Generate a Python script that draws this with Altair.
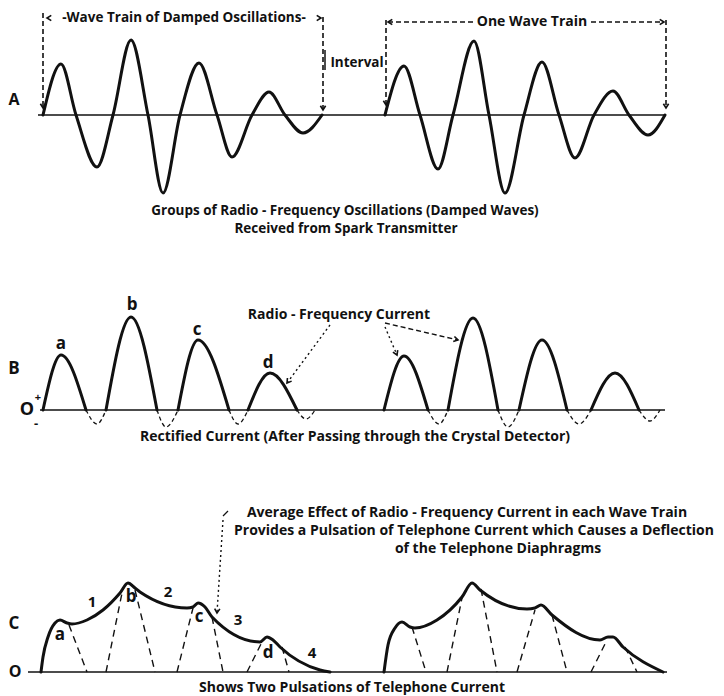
import math
import altair as alt
import pandas as pd

# ---------------- data (diagram coordinates: x = time, y = distance from top) ----------------
# Panel A : damped oscillation wave trains (zero crossings and extremes)
A_BASE = 115
A1_X = [43, 61, 76, 97, 113, 131, 148, 163, 180, 199, 217, 232, 252, 269, 285, 303, 322]
A1_AMP = [0, 51, 0, -52, 0, 75, 0, -78, 0, 52, 0, -42, 0, 23, 0, -18, 0]
A2_X = [385, 404, 420, 438, 453, 474, 489, 505, 524, 542, 559, 575, 594, 613, 629, 648, 665]
A2_AMP = [0, 49, 0, -54, 0, 74, 0, -78, 0, 53, 0, -43, 0, 24, 0, -20, 0]

# Panel B : rectified current humps (start, peak, end, amplitude) and suppressed half-waves
B_BASE = 410
B_HUMP_START = [43, 106, 178, 248, 384, 448, 519, 591]
B_HUMP_PEAK = [61, 131, 198, 270, 404, 473, 542, 615]
B_HUMP_END = [86, 157, 229, 297, 428, 498, 567, 639]
B_HUMP_AMP = [55, 93, 70, 37, 54, 92, 70, 37]
B_TROUGH_START = [86, 157, 229, 297, 428, 498, 567, 639]
B_TROUGH_LOW = [97, 166, 238, 306, 439, 508, 579, 650]
B_TROUGH_END = [106, 178, 248, 315, 448, 519, 591, 660]
B_TROUGH_AMP = [-14, -17, -14, -9, -14, -17, -14, -11]

# Panel C : telephone current envelopes
C_BASE = 672
C1_X = [41, 43, 48, 55, 60, 67, 72, 87, 103, 120, 128, 135, 140, 187, 193, 198, 205, 212, 260, 267, 273, 280, 320, 330]
C1_AMP = [0, 15, 35, 49, 52, 49, 48, 52, 62, 79, 89, 84, 80, 64, 65, 69, 65, 55, 30, 35, 32, 25, 2, 0]
C2_X = [384, 388, 395, 402, 410, 415, 437, 462, 472, 480, 527, 535, 541, 552, 600, 608, 613, 623, 663]
C2_AMP = [0, 27, 44, 50, 45, 44, 52, 75, 89, 82, 63, 64, 67, 57, 32, 35, 35, 25, 0]
# dashed flanks of the individual half-waves (x1, amp1, x2, amp2)
C_DASH_X1 = [69, 106, 135, 177, 212, 247, 282, 412, 447, 481, 517, 552, 591, 625]
C_DASH_A1 = [47, 0, 82, 0, 55, 0, 25, 45, 0, 83, 0, 57, 0, 25]
C_DASH_X2 = [87, 122, 155, 193, 223, 262, 289, 426, 463, 497, 535, 567, 607, 637]
C_DASH_A2 = [0, 79, 0, 64, 0, 30, 0, 0, 79, 0, 62, 0, 32, 0]

# Baselines (x start, x end, y)
BASE_X1 = [38, 40, 28]
BASE_X2 = [665, 665, 667]
BASE_Y = [A_BASE, B_BASE, C_BASE]

# Dashed measuring lines of panel A (x1, y1, x2, y2)
MEAS_X1 = [43, 323, 386, 666, 388, 591]
MEAS_Y1 = [13, 17, 20, 20, 22, 22]
MEAS_X2 = [43, 323, 386, 666, 473, 664]
MEAS_Y2 = [108, 110, 105, 108, 22, 22]

# Pointer lines (x1, y1, x2, y2, dash)
PTR_X1 = [330, 385, 385, 223, 223]
PTR_Y1 = [325, 323, 327, 520, 516]
PTR_X2 = [287, 458, 397, 217, 228]
PTR_Y2 = [383, 340, 355, 613, 511]
PTR_KIND = ["dot", "dash", "dot", "dot", "solid"]

# Arrow heads: tip position and the point they come from
HEAD_X = [287, 458, 397, 217, 43, 323, 386, 666, 47, 321, 388, 664]
HEAD_Y = [383, 340, 355, 613, 108, 110, 105, 108, 18, 18, 22, 22]
HEAD_FROM_X = [330, 385, 385, 223, 43, 323, 386, 666, 60, 306, 400, 652]
HEAD_FROM_Y = [325, 323, 327, 520, 90, 90, 90, 90, 18, 18, 22, 22]

# Text annotations
TXT = ["A", "B", "C", "O", "+", "-", "O",
       "-Wave Train of Damped Oscillations-", "Interval", "One Wave Train",
       "Groups of Radio - Frequency Oscillations (Damped Waves)",
       "Received from Spark Transmitter",
       "a", "b", "c", "d", "Radio - Frequency Current",
       "Rectified Current (After Passing through the Crystal Detector)",
       "Average Effect of Radio - Frequency Current in each Wave Train",
       "Provides a Pulsation of Telephone Current which Causes a Deflection",
       "of the Telephone Diaphragms",
       "a", "b", "c", "d", "1", "2", "3", "4",
       "Shows Two Pulsations of Telephone Current"]
TXT_X = [14, 14, 14, 27, 38, 36, 15,
         184, 357, 532,
         345, 346,
         61, 132, 197, 268, 339,
         355,
         467, 474, 498,
         60, 131, 199, 268, 92, 168, 238, 312,
         352]
TXT_Y = [100, 369, 624, 410, 398, 424, 672,
         18, 63, 22,
         211, 229,
         344, 305, 330, 363, 315,
         437,
         513, 531, 549,
         635, 597, 617, 653, 602, 592, 620, 653,
         688]
TXT_SIZE = [16, 17, 17, 18, 11, 13, 16,
            13.5, 13.5, 14,
            13.5, 13.5,
            17, 17, 17, 17, 14,
            14,
            14, 14, 14,
            17, 17, 17, 17, 15, 15, 15, 15,
            14]

# ---------------- build tables ----------------
rows = []
for seg, (xs, amps) in enumerate([(A1_X, A1_AMP), (A2_X, A2_AMP)]):
    for x, a in zip(xs, amps):
        rows.append({"seg": f"A{seg}", "x": x, "y": A_BASE - a})
for i in range(len(B_HUMP_START)):
    for x, a in [(B_HUMP_START[i], 0), (B_HUMP_PEAK[i], B_HUMP_AMP[i]), (B_HUMP_END[i], 0)]:
        rows.append({"seg": f"B{i}", "x": x, "y": B_BASE - a})
for seg, (xs, amps) in enumerate([(C1_X, C1_AMP), (C2_X, C2_AMP)]):
    for x, a in zip(xs, amps):
        rows.append({"seg": f"C{seg}", "x": x, "y": C_BASE - a})
solid = pd.DataFrame(rows)

rows = []
for i in range(len(B_TROUGH_START)):
    for x, a in [(B_TROUGH_START[i], 0), (B_TROUGH_LOW[i], B_TROUGH_AMP[i]), (B_TROUGH_END[i], 0)]:
        rows.append({"seg": f"T{i}", "x": x, "y": B_BASE - a})
troughs = pd.DataFrame(rows)

cdash = pd.DataFrame({
    "x": C_DASH_X1, "y": [C_BASE - a for a in C_DASH_A1],
    "x2": C_DASH_X2, "y2": [C_BASE - a for a in C_DASH_A2],
})
meas = pd.DataFrame({"x": MEAS_X1, "y": MEAS_Y1, "x2": MEAS_X2, "y2": MEAS_Y2})
bases = pd.DataFrame({"x": BASE_X1, "x2": BASE_X2, "y": BASE_Y, "y2": BASE_Y})
ptr = pd.DataFrame({"x": PTR_X1, "y": PTR_Y1, "x2": PTR_X2, "y2": PTR_Y2, "kind": PTR_KIND})
ang = []
for hx, hy, fx, fy in zip(HEAD_X, HEAD_Y, HEAD_FROM_X, HEAD_FROM_Y):
    dx, dy = hx - fx, hy - fy
    a = math.degrees(math.atan2(dx, -dy)) % 360
    ang.append(a)
heads = pd.DataFrame({"x": HEAD_X, "y": HEAD_Y, "ang": ang})
texts = pd.DataFrame({"t": TXT, "x": TXT_X, "y": TXT_Y, "fs": TXT_SIZE})

# ---------------- chart ----------------
W, H = 708, 680
XS = alt.Scale(domain=[8, 8 + W], nice=False, zero=False)
YS = alt.Scale(domain=[8 + H, 8], nice=False, zero=False)


def xy(extra2=False):
    enc = {"x": alt.X("x:Q", scale=XS, axis=None), "y": alt.Y("y:Q", scale=YS, axis=None)}
    if extra2:
        enc["x2"] = alt.X2("x2:Q")
        enc["y2"] = alt.Y2("y2:Q")
    return enc


FONT = "Open Sans"
INK = "#111111"

base_layer = alt.Chart(bases).mark_rule(color=INK, strokeWidth=1.6).encode(**xy(True))
solid_layer = alt.Chart(solid).mark_line(
    interpolate="monotone", color=INK, strokeWidth=3, strokeCap="round", strokeJoin="round"
).encode(**xy(), detail="seg:N")
trough_layer = alt.Chart(troughs).mark_line(
    interpolate="monotone", color=INK, strokeWidth=1.3, strokeDash=[4, 3]
).encode(**xy(), detail="seg:N")
cdash_layer = alt.Chart(cdash).mark_rule(color=INK, strokeWidth=1.4, strokeDash=[7, 5]).encode(**xy(True))
meas_layer = alt.Chart(meas).mark_rule(color=INK, strokeWidth=1.6, strokeDash=[5, 3]).encode(**xy(True))
bar_layer = alt.Chart(pd.DataFrame({"x": [325], "y": [50], "x2": [325], "y2": [70]})).mark_rule(
    color=INK, strokeWidth=1.5).encode(**xy(True))
dot_layer = alt.Chart(ptr[ptr.kind == "dot"]).mark_rule(
    color=INK, strokeWidth=1.4, strokeDash=[2, 3]).encode(**xy(True))
dash_layer = alt.Chart(ptr[ptr.kind == "dash"]).mark_rule(
    color=INK, strokeWidth=1.4, strokeDash=[5, 3]).encode(**xy(True))
tick_layer = alt.Chart(ptr[ptr.kind == "solid"]).mark_rule(
    color=INK, strokeWidth=1.2).encode(**xy(True))
head_layer = alt.Chart(heads).mark_point(
    shape="M -0.55 0.9 L 0 0 L 0.55 0.9", filled=False, color=INK, strokeWidth=1.6, size=90, opacity=1
).encode(**xy(), angle=alt.Angle("ang:Q", scale=None))
text_layer = alt.Chart(texts).mark_text(
    font=FONT, fontWeight="bold", color=INK, align="center", baseline="middle"
).encode(**xy(), text="t:N", size=alt.Size("fs:Q", scale=None, legend=None))

chart = alt.layer(
    base_layer, trough_layer, cdash_layer, meas_layer, bar_layer, dot_layer, dash_layer,
    tick_layer, solid_layer, head_layer, text_layer
).properties(
    width=W, height=H,
    padding={"left": 0, "top": 0, "right": 0, "bottom": 8},
    autosize=alt.AutoSizeParams(type="none"), background="white"
).configure_view(stroke=None)

chart.save("out.html", embed_options={"renderer": "svg", "actions": False})
